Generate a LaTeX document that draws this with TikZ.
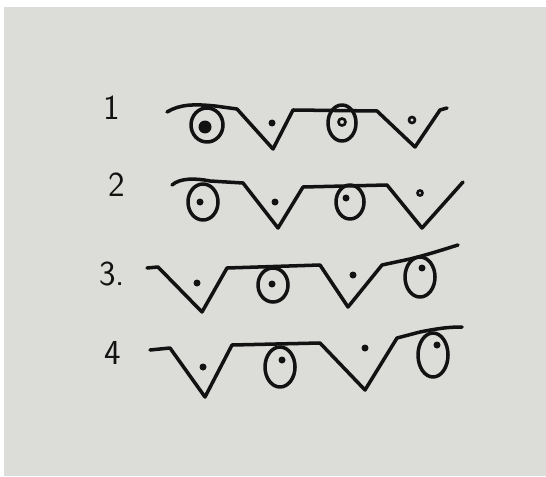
\documentclass[tikz,border=0pt]{standalone}
\usepackage{tikz}
\definecolor{paper}{RGB}{220,220,217}
\definecolor{ink}{RGB}{18,18,18}

\begin{document}
\begin{tikzpicture}[x=0.02cm, y=-0.02cm,
    pen/.style={draw=ink, line width=2pt, line join=round, line cap=round},
    numlabel/.style={font=\sffamily\fontsize{20}{22}\selectfont, text=ink, inner sep=0pt},
    bigdot/.style={fill=ink},
    ringdot/.style={draw=ink, line width=1.5pt}
]
    % paper
    \useasboundingbox (0,0) rectangle (546,476);
    \fill[white] (0,0) rectangle (546,476);
    \fill[paper] (4,7) rectangle (546,476);

    % row labels
    \node[numlabel] (n1) at (112,108) {1};
    \node[numlabel] (n2) at (117,185) {2};
    \node[numlabel] (n3) at (112,274) {3.};
    \node[numlabel] (n4) at (113,353) {4};

    % row 1
    \draw[pen] (167,112) .. controls (180,104) and (195,104) .. (215,106) -- (237,109)
        -- (273,149) -- (293,110) -- (377,111) -- (415,147) -- (440,110) -- (447,108);
    \draw[pen] (207,125) ellipse [x radius=16, y radius=17];
    \fill[bigdot] (205,127) circle [radius=6.5];
    \fill[bigdot] (272,123) circle [radius=3.5];
    \draw[pen] (342,123) ellipse [x radius=14, y radius=18];
    \draw[ringdot] (342,122) circle [radius=3.5];
    \draw[ringdot] (412,120) circle [radius=3];

    % row 2
    \draw[pen] (172,185) .. controls (180,178) and (195,178) .. (210,181) -- (243,183)
        -- (278,228) -- (303,187) -- (387,185) -- (422,228) -- (463,182);
    \draw[pen] (203,202) ellipse [x radius=15, y radius=18];
    \fill[bigdot] (200,202) circle [radius=3.5];
    \fill[bigdot] (275,202) circle [radius=3.5];
    \draw[pen] (350,202) ellipse [x radius=14, y radius=17];
    \fill[bigdot] (346,198) circle [radius=3.5];
    \draw[ringdot] (420,193) circle [radius=2.5];

    % row 3
    \draw[pen] (147,268) -- (158,267) -- (202,312) -- (227,268) -- (320,265)
        -- (348,307) -- (382,265) -- (410,259) .. controls (430,254) and (445,249) .. (458,245);
    \fill[bigdot] (197,283) circle [radius=3.5];
    \draw[pen] (273,285) ellipse [x radius=15, y radius=17];
    \fill[bigdot] (272,284) circle [radius=3.5];
    \fill[bigdot] (353,275) circle [radius=3.5];
    \draw[pen] (420,277) ellipse [x radius=15, y radius=20];
    \fill[bigdot] (422,268) circle [radius=3.5];

    % row 4
    \draw[pen] (150,350) -- (170,348) -- (205,397) -- (232,345) -- (320,343)
        -- (365,390) -- (397,338) -- (420,332) .. controls (440,328) and (450,327) .. (462,327);
    \fill[bigdot] (203,367) circle [radius=3.5];
    \draw[pen] (280,367) ellipse [x radius=15, y radius=20];
    \fill[bigdot] (282,360) circle [radius=3.5];
    \fill[bigdot] (365,348) circle [radius=3.5];
    \draw[pen] (433,355) ellipse [x radius=15, y radius=22];
    \fill[bigdot] (437,345) circle [radius=3.5];
\end{tikzpicture}
\end{document}
